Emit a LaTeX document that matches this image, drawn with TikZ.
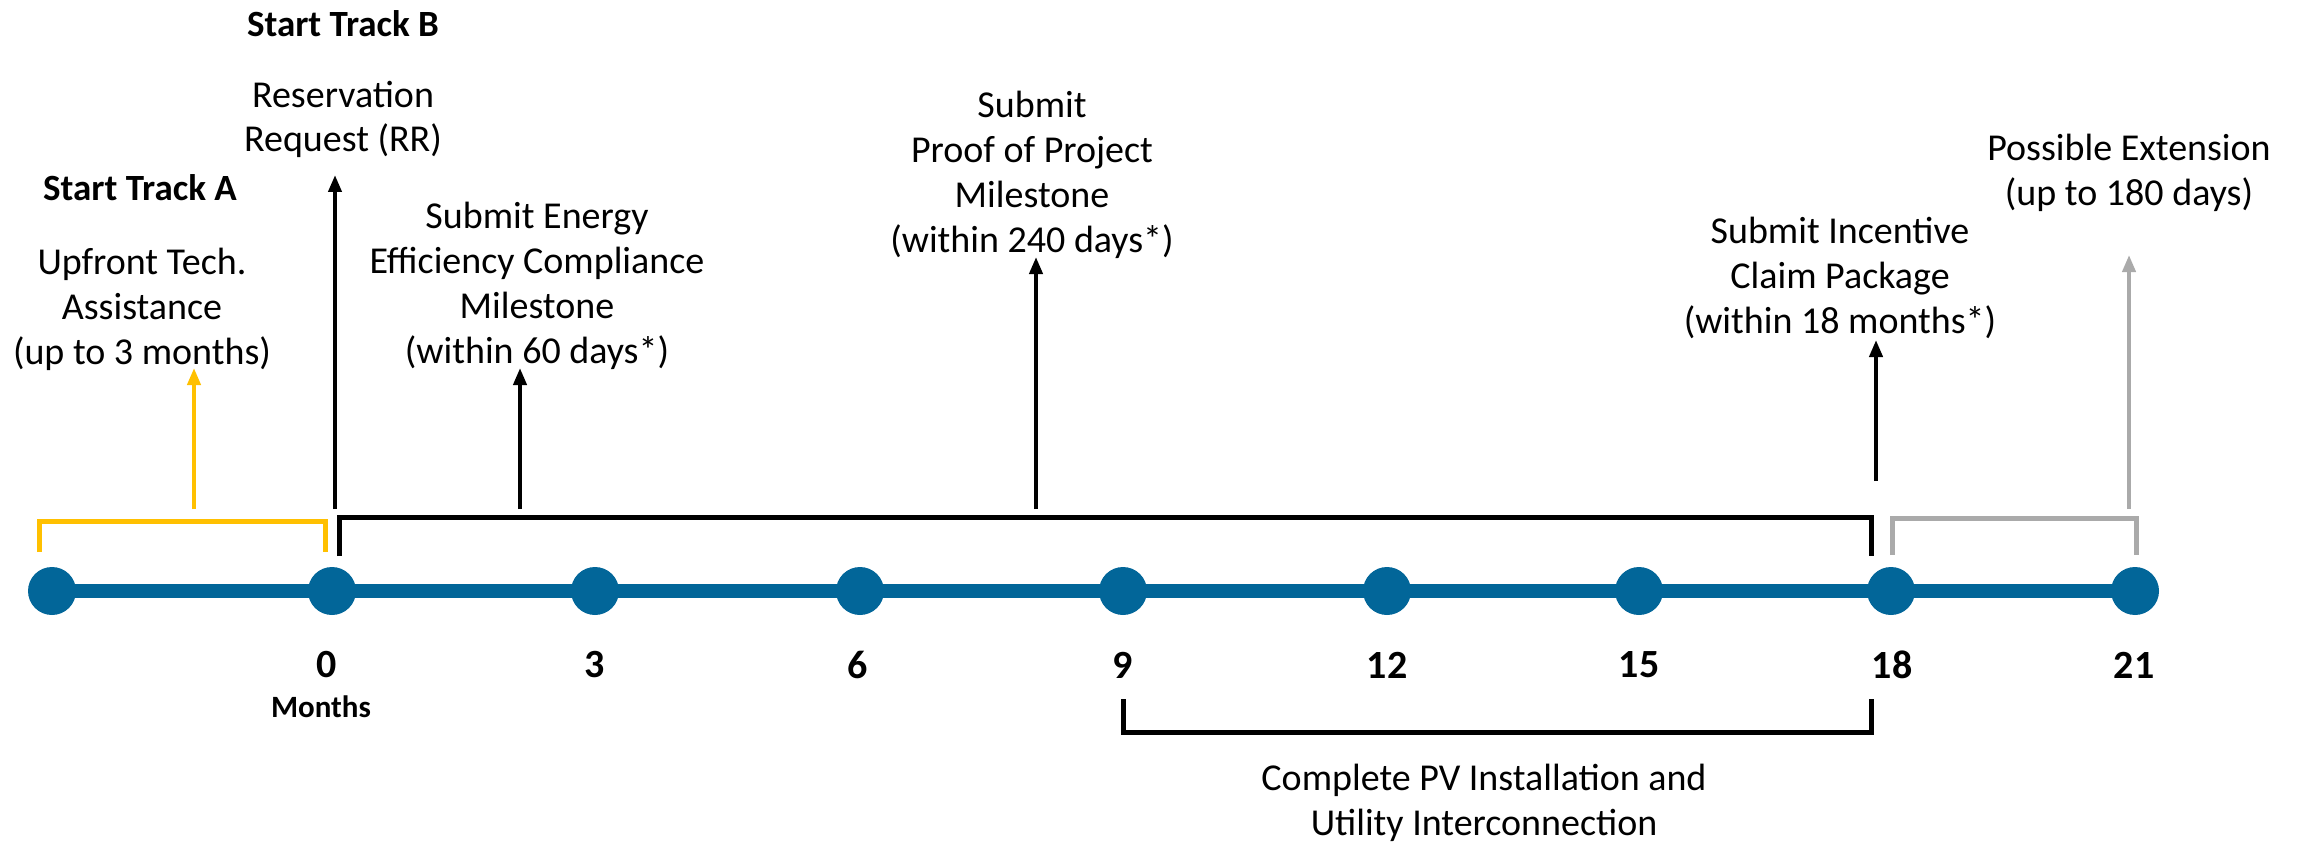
\documentclass[tikz,border=0pt]{standalone}
\usepackage{fontspec}
\setmainfont{Carlito}
\usetikzlibrary{arrows.meta}
\definecolor{tlblue}{RGB}{2,102,153}
\definecolor{tlgold}{RGB}{255,192,0}
\definecolor{tlgray}{RGB}{170,170,170}
\tikzset{
  lbl/.style={align=center,inner sep=0pt,font=\fontsize{38}{45}\selectfont},
  hd/.style={inner sep=0pt,font=\fontsize{37}{42}\selectfont\bfseries},
  num/.style={inner sep=0pt,font=\fontsize{40}{44}\selectfont\bfseries},
  mstone/.style={circle,fill=tlblue,minimum size=48pt,inner sep=0pt},
  arr/.style={line width=4pt,-{Triangle[length=17pt,width=13pt]}},
  brk/.style={line width=5pt}
}
\begin{document}
\begin{tikzpicture}[x=1pt,y=-1pt]
\useasboundingbox (0,0) rectangle (2298,842);
% timeline
\coordinate (L0) at (52,591);
\coordinate (L8) at (2135,591);
\draw[tlblue,line width=14pt] (L0) -- (L8);
\foreach \n/\x in {m/52,a/332,b/595,c/860,d/1123,e/1387,f/1639,g/1891,h/2135}{
  \node[mstone] (c\n) at (\x,591) {};
}
% numbers
\node[num] (n0) at (327,665) {0};
\node[num] (n3) at (595,665) {3};
\node[num] (n6) at (858,665) {6};
\node[num] (n9) at (1123,665) {9};
\node[num] (n12) at (1387,665) {12};
\node[num] (n15) at (1639,665) {15};
\node[num] (n18) at (1892,665) {18};
\node[num] (n21) at (2134,665) {21};
\node[inner sep=0pt,font=\fontsize{31}{36}\selectfont\bfseries] (months) at (321,707) {Months};
% brackets
\draw[brk,tlgold] (39,552) -- (39,521) -- (325,521) -- (325,552);
\draw[brk,black] (339,556) -- (339,517) -- (1871,517) -- (1871,556);
\draw[brk,tlgray] (1892,555) -- (1892,518) -- (2136,518) -- (2136,555);
\draw[brk,black] (1123,699) -- (1123,732) -- (1871,732) -- (1871,699);
% texts
\node[hd] (tb) at (343,24) {Start Track B};
\node[lbl,font=\fontsize{38}{44}\selectfont] (rr) at (343,119) {Reservation\\Request (RR)};
\node[hd] (ta) at (140,188) {Start Track A};
\node[lbl] (up) at (142,309) {Upfront Tech.\\Assistance\\(up to 3 months)};
\node[lbl] (ee) at (537,286) {Submit Energy\\Efficiency Compliance\\Milestone\\(within 60 days*)};
\node[lbl] (pp) at (1032,175) {Submit\\Proof of Project\\Milestone\\(within 240 days*)};
\node[lbl] (ic) at (1840,278) {Submit Incentive\\Claim Package\\(within 18 months*)};
\node[lbl] (px) at (2129,173) {Possible Extension\\(up to 180 days)};
\node[lbl] (pv) at (1484,803) {Complete PV Installation and\\Utility Interconnection};
% arrows
\coordinate (ya0) at (194,509); \coordinate (ya1) at (194,368);
\coordinate (ba0) at (335,509); \coordinate (ba1) at (335,175);
\coordinate (ea0) at (520,509); \coordinate (ea1) at (520,368);
\coordinate (pa0) at (1036,509); \coordinate (pa1) at (1036,257);
\coordinate (ia0) at (1876,481); \coordinate (ia1) at (1876,340);
\coordinate (ga0) at (2129,509); \coordinate (ga1) at (2129,255);
\draw[arr,tlgold] (ya0) -- (ya1);
\draw[arr,black] (ba0) -- (ba1);
\draw[arr,black] (ea0) -- (ea1);
\draw[arr,black] (pa0) -- (pa1);
\draw[arr,black] (ia0) -- (ia1);
\draw[arr,tlgray] (ga0) -- (ga1);
\end{tikzpicture}
\end{document}
